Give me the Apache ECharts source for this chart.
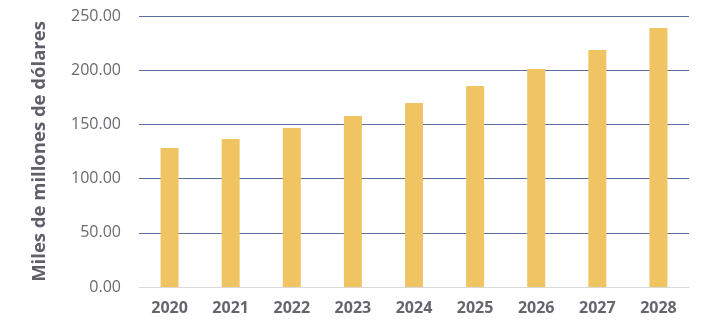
<!DOCTYPE html>
<html>
<head>
<meta charset="utf-8">
<script src="https://cdn.jsdelivr.net/npm/echarts@6/dist/echarts.min.js"></script>
<style>html,body{margin:0;padding:0;background:#fff;}#c{width:711px;height:336px;}</style>
</head>
<body>
<div id="c"></div>
<script>
var categories = ['2020','2021','2022','2023','2024','2025','2026','2027','2028'];
var values = [128.2, 136.5, 146.7, 157.7, 169.7, 185.4, 201.1, 218.6, 238.9];
var yTicks = [0, 50, 100, 150, 200, 250];
var yTitle = 'Miles de millones de dólares';

var chart = echarts.init(document.getElementById('c'));
chart.setOption({
  animation: false,
  grid: { left: 139, right: 22, top: 16, bottom: 49 },
  xAxis: {
    type: 'category',
    data: categories,
    axisLine: { lineStyle: { color: '#d9d9d9', width: 1 } },
    axisTick: { show: false },
    axisLabel: { color: '#65656d', fontFamily: 'Open Sans', fontWeight: 'bold', fontSize: 16, margin: 13 }
  },
  yAxis: {
    type: 'value',
    min: 0, max: 250, interval: 50,
    name: yTitle,
    nameLocation: 'middle',
    nameGap: 90,
    nameTextStyle: { color: '#5f5f67', fontFamily: 'Open Sans', fontWeight: 'bold', fontSize: 18.5 },
    axisLine: { show: false },
    axisTick: { show: false },
    axisLabel: { color: '#6a6a72', fontFamily: 'Open Sans', fontSize: 16, margin: 18,
      formatter: function (v) { return v.toFixed(2); } },
    splitLine: { lineStyle: { color: '#5b6f9c', width: 1 } }
  },
  series: [{
    type: 'bar',
    data: values,
    barWidth: 18,
    itemStyle: { color: '#f0c462' }
  }]
});
</script>
</body>
</html>
